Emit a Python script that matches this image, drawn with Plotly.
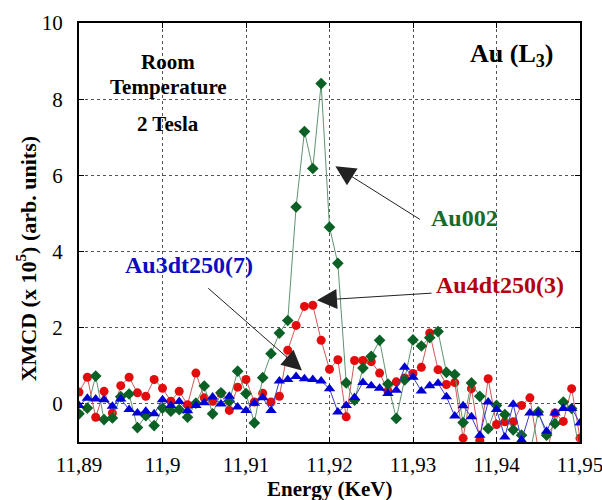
import plotly.graph_objects as go

# Energy (keV), one point every 0.001 keV
energy = [11.890, 11.891, 11.892, 11.893, 11.894, 11.895, 11.896, 11.897, 11.898, 11.899,
          11.900, 11.901, 11.902, 11.903, 11.904, 11.905, 11.906, 11.907, 11.908, 11.909,
          11.910, 11.911, 11.912, 11.913, 11.914, 11.915, 11.916, 11.917, 11.918, 11.919,
          11.920, 11.921, 11.922, 11.923, 11.924, 11.925, 11.926, 11.927, 11.928, 11.929,
          11.930, 11.931, 11.932, 11.933, 11.934, 11.935, 11.936, 11.937, 11.938, 11.939,
          11.940, 11.941, 11.942, 11.943, 11.944, 11.945, 11.946, 11.947, 11.948, 11.949,
          11.950]

au4dt250 = [0.31, 0.70, -0.35, 0.33, -0.24, 0.48, 0.70, 0.29, 0.20, 0.64,
            0.41, 0.07, 0.33, -0.02, 0.81, 0.16, 0.07, 0.28, -0.17, 0.44,
            0.64, 0.05, 0.28, 0.05, 0.20, 1.41, 2.06, 2.56, 2.59, 1.67,
            0.91, 1.16, -0.34, 1.14, 1.14, 1.11, 0.81, 0.34, 0.58, 0.68,
            0.80, 0.96, 1.86, 0.90, 0.51, 0.56, -0.90, 0.40, -0.96, 0.66,
            -0.54, -0.47, -0.47, -0.04, 0.16, -1.20, -1.40, -0.24, -0.46, 0.40,
            -0.90]

au002 = [-0.26, -0.11, 0.73, -0.41, -0.37, 0.19, 0.26, -0.62, -0.31, -0.57,
         -0.11, -0.19, -0.15, -0.35, 0.02, 0.47, -0.26, 0.29, 0.07, 0.86,
         0.27, -0.50, 0.69, 1.32, 1.86, 2.19, 5.17, 7.15, 6.18, 8.41,
         4.64, 3.69, 0.55, 0.10, 0.94, 1.25, 1.67, 0.52, -0.38, 0.63,
         1.68, 1.52, 1.74, 1.90, 0.83, 0.77, -0.49, 0.55, 0.20, -0.65,
         -0.04, -0.28, -0.68, -0.82, -1.30, -0.21, -0.82, -0.52, 0.05, -0.12,
         -1.30]

au3dt250 = [-0.04, 0.15, 0.13, 0.11, -0.06, 0.13, -0.15, -0.24, -0.19, -0.26,
            0.11, -0.04, 0.06, -0.18, -0.04, 0.03, 0.18, 0.00, 0.20, -0.08,
            -0.17, 0.02, 0.16, -0.17, 0.60, 0.64, 0.72, 0.66, 0.64, 0.60,
            0.40, -0.21, -0.04, 0.17, 0.56, 0.48, 0.41, 0.27, 0.36, 0.96,
            0.70, 0.34, 0.48, 0.54, 0.19, -0.32, -0.05, -0.34, -0.82, 0.05,
            -0.15, -0.87, -0.01, -0.95, -0.24, -0.24, -0.72, -0.24, -0.12, -0.12,
            -0.50]

x_tickvals = [11.89, 11.90, 11.91, 11.92, 11.93, 11.94, 11.95]
x_ticktext = ["11,89", "11,9", "11,91", "11,92", "11,93", "11,94", "11,95"]
y_tickvals = [0, 2, 4, 6, 8, 10]

SERIF = "Liberation Serif, Times New Roman, serif"

fig = go.Figure()
fig.add_trace(go.Scatter(
    x=energy, y=au4dt250, mode="lines+markers", name="Au4dt250(3)",
    line=dict(color="#cc5a5a", width=1),
    marker=dict(symbol="circle", size=9, color="#e30b0b")))
fig.add_trace(go.Scatter(
    x=energy, y=au002, mode="lines+markers", name="Au002",
    line=dict(color="#5f9470", width=1),
    marker=dict(symbol="diamond", size=9, color="#0b6125")))
fig.add_trace(go.Scatter(
    x=energy, y=au3dt250, mode="lines+markers", name="Au3dt250(7)",
    line=dict(color="#3a3ac8", width=1),
    marker=dict(symbol="triangle-up", size=10, color="#0000d4")))

axis_common = dict(
    showline=True, linecolor="black", linewidth=2, mirror="ticks",
    ticks="inside", ticklen=5, tickcolor="black",
    showgrid=True, gridcolor="#555555", gridwidth=1, griddash="dot",
    zeroline=False, automargin=False,
    tickfont=dict(family=SERIF, size=21, color="black"),
)

fig.update_xaxes(range=[11.89, 11.95], tickvals=x_tickvals, ticktext=x_ticktext,
                 ticklabelstandoff=3, ticklabeloverflow="allow", **axis_common)
fig.update_yaxes(range=[-1, 10], tickvals=y_tickvals,
                 ticklabelstandoff=10, **axis_common)


def label(text, x, y, size, color="black"):
    return dict(text=text, xref="paper", yref="paper", x=x, y=y, showarrow=False,
                font=dict(family=SERIF, size=size, color=color),
                xanchor="center", yanchor="middle")


def arrow(x, y, ax, ay):
    return dict(x=x, y=y, ax=ax, ay=ay, xref="x", yref="y", axref="x", ayref="y",
                text="", showarrow=True, arrowhead=2, arrowsize=4, arrowwidth=1,
                arrowcolor="#222")


annotations = [
    label("<b>Energy (KeV)</b>", 0.5, -0.113, 21),
    dict(text="<b>XMCD (x 10<sup>5</sup>) (arb. units)</b>", xref="paper", yref="paper",
         x=-0.104, y=0.438, textangle=-90, showarrow=False,
         font=dict(family=SERIF, size=22, color="black"),
         xanchor="center", yanchor="middle"),
    label("<b>Room</b>", 0.178, 0.906, 21),
    label("<b>Temperature</b>", 0.178, 0.8465, 21),
    label("<b>2 Tesla</b>", 0.178, 0.758, 21),
    label("<b>Au (L<sub>3</sub>)</b>", 0.864, 0.923, 26),
    label("<b>Au002</b>", 0.770, 0.534, 24, "#176b2b"),
    label("<b>Au4dt250(3)</b>", 0.840, 0.374, 24, "#b3000c"),
    label("<b>Au3dt250(7)</b>", 0.2196, 0.4217, 24, "#0c0cc0"),
    arrow(11.9207, 6.24, 11.9310, 4.82),
    arrow(11.9185, 2.72, 11.9324, 2.91),
    arrow(11.9167, 0.88, 11.9053, 3.07),
]

fig.update_layout(
    width=602, height=500,
    margin=dict(l=79, r=22, t=23, b=58, pad=0, autoexpand=False),
    paper_bgcolor="white", plot_bgcolor="white",
    showlegend=False,
    annotations=annotations,
    font=dict(family=SERIF),
)

# remove the page's default body margin so the figure sits at the window's corner
fig.write_html("out.html", config={"displayModeBar": False},
               post_script="document.body.style.margin='0';")
